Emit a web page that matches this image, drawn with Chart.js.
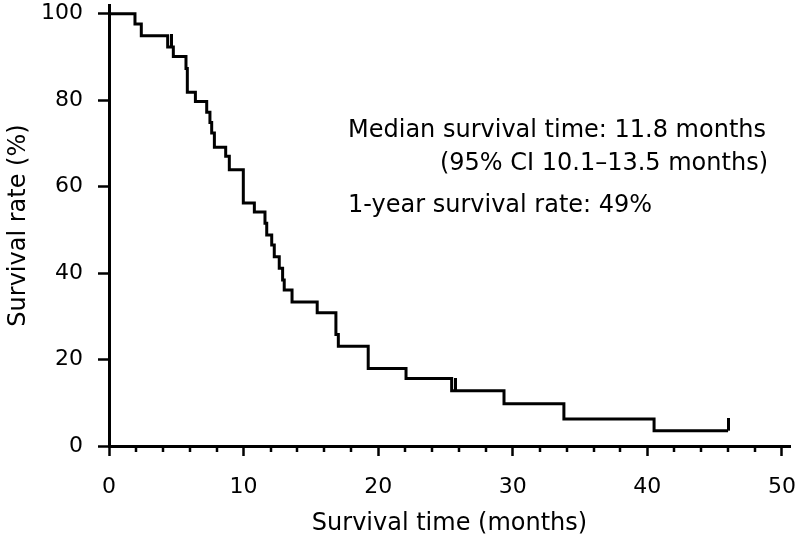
<!DOCTYPE html>
<html>
<head>
<meta charset="utf-8">
<script src="https://cdn.jsdelivr.net/npm/chart.js@4/dist/chart.umd.min.js"></script>
<style>
  body { margin: 0; background: #fff; }
  #wrap { width: 797px; height: 542px; }
</style>
</head>
<body>
<div id="wrap"><canvas id="kmChart" width="797" height="542"></canvas></div>
<script>
// Kaplan-Meier steps (months, survival %)
const eventTimes = [0, 1.93, 2.4, 4.36, 4.78, 5.72, 5.82, 6.42, 7.26, 7.5, 7.63, 7.83, 8.67, 8.94, 9.98, 10.8,
    11.59, 11.72, 12.09, 12.28, 12.65, 12.9, 13.02, 13.6, 15.47, 16.86, 17.04, 19.26, 22.07, 25.46, 29.35, 33.8, 40.5, 46.0];
const survivalRates = [100, 97.6, 94.9, 92.3, 90.1, 87.3, 81.8, 79.7, 77.2, 74.8, 72.4, 69.1, 67.0, 63.9, 56.2, 54.1,
    51.5, 48.8, 46.5, 43.8, 41.1, 38.4, 36.1, 33.3, 30.8, 25.8, 23.1, 17.9, 15.6, 12.8, 9.8, 6.25, 3.55, 3.55];

// censored observations
const censorTimes = [4.66, 25.75, 46.0];
const censorRates = [92.3, 12.8, 3.55];

const xTicks = [0, 10, 20, 30, 40, 50];
const yTicks = [0, 20, 40, 60, 80, 100];
const xMinorStep = 2;

const notes = [
    "Median survival time: 11.8 months",
    "(95% CI 10.1\u201313.5 months)",
    "1-year survival rate: 49%"
];

const FONT = "'DejaVu Sans', 'Liberation Sans', Arial, sans-serif";

document.addEventListener("DOMContentLoaded", function() {

    // small vertical tick sitting on top of the curve for censored cases
    var censorMark = document.createElement("canvas");
    censorMark.width = 3;
    censorMark.height = 26;
    var mctx = censorMark.getContext("2d");
    mctx.fillStyle = "#000";
    mctx.fillRect(0, 0, 3, 13);

    var minorTicks = {
        id: "minorTicks",
        afterDraw: function(chart) {
            var ctx = chart.ctx;
            var xs = chart.scales.x;
            var base = chart.chartArea.bottom;
            ctx.save();
            ctx.strokeStyle = "#000";
            ctx.lineWidth = 2.5;
            for (var v = xMinorStep; v < xTicks[xTicks.length - 1]; v += xMinorStep) {
                if (v % 10 === 0) continue;
                var px = Math.round(xs.getPixelForValue(v));
                ctx.beginPath();
                ctx.moveTo(px, base);
                ctx.lineTo(px, base + 6);
                ctx.stroke();
            }
            ctx.restore();
        }
    };

    var noteText = {
        id: "noteText",
        afterDraw: function(chart) {
            var ctx = chart.ctx;
            ctx.save();
            ctx.fillStyle = "#000";
            ctx.font = "24px " + FONT;
            ctx.textBaseline = "middle";
            ctx.textAlign = "right";
            ctx.fillText(notes[0], 766, 131);
            ctx.fillText(notes[1], 768, 164);
            ctx.textAlign = "left";
            ctx.fillText(notes[2], 348, 206);
            ctx.restore();
        }
    };

    var kmCanvas = document.getElementById("kmChart");
    new Chart(kmCanvas, {
        type: 'scatter',
        data: {
            datasets: [{
                label: "Survival",
                data: eventTimes.map((t, i) => ({ x: t, y: survivalRates[i] })),
                showLine: true,
                stepped: 'before',
                borderColor: '#000',
                borderWidth: 3,
                pointRadius: 0,
                fill: false
            }, {
                label: "Censored",
                data: censorTimes.map((t, i) => ({ x: t, y: censorRates[i] })),
                showLine: false,
                pointStyle: censorMark,
                pointRadius: 3
            }]
        },
        options: {
            responsive: false,
            animation: false,
            layout: { padding: { left: 0, right: 7, top: 5, bottom: 0 } },
            scales: {
                x: {
                    type: 'linear',
                    min: 0,
                    max: 50.6,
                    afterFit: (scale) => {
                        scale.height = 96;
                        scale.paddingLeft = 0;
                        scale.paddingRight = 0;
                    },
                    afterBuildTicks: (scale) => { scale.ticks = xTicks.map(v => ({ value: v })); },
                    border: { display: true, color: '#000', width: 3 },
                    grid: { drawOnChartArea: false, tickLength: 10, tickWidth: 2.5, tickColor: '#000' },
                    ticks: { color: '#000', padding: 18, maxRotation: 0, font: { family: FONT, size: 22 } },
                    title: {
                        display: true,
                        text: 'Survival time (months)',
                        color: '#000',
                        padding: { top: 0, bottom: 4 },
                        font: { family: FONT, size: 24 }
                    }
                },
                y: {
                    min: 0,
                    max: 102,
                    afterFit: (scale) => {
                        scale.width = 109;
                        scale.paddingTop = 0;
                        scale.paddingBottom = 0;
                    },
                    afterBuildTicks: (scale) => { scale.ticks = yTicks.map(v => ({ value: v })); },
                    border: { display: true, color: '#000', width: 3 },
                    grid: { drawOnChartArea: false, tickLength: 11, tickWidth: 2.5, tickColor: '#000' },
                    ticks: { color: '#000', padding: 15, font: { family: FONT, size: 22 } },
                    title: {
                        display: true,
                        text: 'Survival rate (%)',
                        color: '#000',
                        padding: { top: 4, bottom: 0 },
                        font: { family: FONT, size: 24 }
                    }
                }
            },
            plugins: {
                legend: { display: false },
                tooltip: { enabled: false }
            }
        },
        plugins: [minorTicks, noteText]
    });
});
</script>
</body>
</html>
